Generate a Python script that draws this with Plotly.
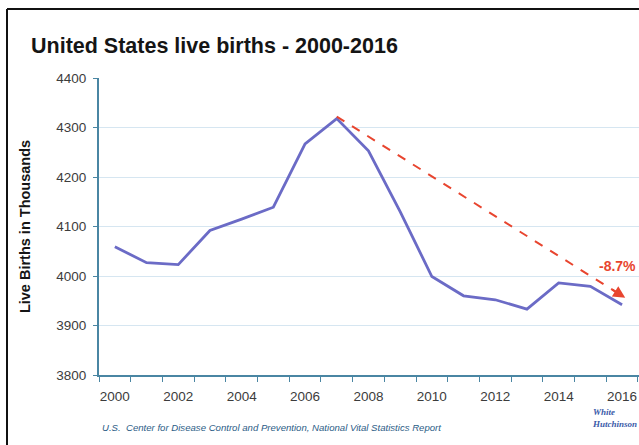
import plotly.graph_objects as go

# US live births, thousands
years = list(range(2000, 2017))
births = [4059, 4027, 4023, 4092, 4115, 4139, 4267, 4318, 4253, 4130,
          3999, 3960, 3952, 3933, 3986, 3979, 3942]
tick_years = list(range(2000, 2017, 2))
y_ticks = [3800, 3900, 4000, 4100, 4200, 4300, 4400]

W, H = 639, 445
L, R, T, B = 99, 0, 78, 70
PW, PH = W - L - R, H - T - B
YEAR_PX = 31.7


def px_x(p):
    return (p - L) / PW


def px_y(p):
    return (H - B - p) / PH


peak_i = births.index(max(births))
last_i = len(births) - 1
change = (births[last_i] - births[peak_i]) / births[peak_i] * 100

RED = "#e8452f"
LINE = "#6b6bc6"
AXIS = "#4a86a3"
GRID = "#d6e6f1"
TICK = "#3c3c3c"

fig = go.Figure()

fig.add_trace(go.Scatter(
    x=years, y=births, mode="lines",
    line=dict(color=LINE, width=2.8), hoverinfo="x+y", showlegend=False,
))

# dashed trend arrow from the peak year to the latest year
a_x0, a_y0 = years[peak_i], births[peak_i] + 4
a_x1, a_y1 = years[last_i] + 0.1, births[last_i] + 14
fig.add_trace(go.Scatter(
    x=[a_x0, a_x1], y=[a_y0, a_y1], mode="lines",
    line=dict(color=RED, width=2, dash="dash"), hoverinfo="skip", showlegend=False,
))
frac = 0.05
fig.add_annotation(
    x=a_x1, y=a_y1, xref="x", yref="y",
    ax=a_x1 - (a_x1 - a_x0) * frac, ay=a_y1 - (a_y1 - a_y0) * frac,
    axref="x", ayref="y", text="", showarrow=True,
    arrowhead=2, arrowsize=1.2, arrowwidth=2, arrowcolor=RED,
)
fig.add_annotation(
    x=years[last_i] - 0.8, y=births[last_i] + 78, xref="x", yref="y",
    text=f"<b>{change:.1f}%</b>", showarrow=False, xanchor="left", yanchor="middle",
    font=dict(size=14, color=RED, family="Liberation Sans, Arial"),
)

fig.add_annotation(
    x=px_x(29), y=px_y(46), xref="paper", yref="paper",
    text="<b>United States live births - 2000-2016</b>", showarrow=False,
    xanchor="left", yanchor="middle",
    font=dict(size=21.5, color="#151515", family="Liberation Sans, Arial"),
)
fig.add_annotation(
    x=px_x(100), y=px_y(427), xref="paper", yref="paper",
    text="<i>U.S.  Center for Disease Control and Prevention, National Vital Statistics Report</i>",
    showarrow=False, xanchor="left", yanchor="middle",
    font=dict(size=9.6, color="#2b5c86", family="Liberation Sans, Arial"),
)
fig.add_annotation(
    x=px_x(590), y=px_y(418), xref="paper", yref="paper",
    text="<b><i>White<br>Hutchinson</i></b>", showarrow=False,
    xanchor="left", yanchor="middle", align="left",
    font=dict(size=9, color="#3a5aa8", family="Liberation Serif, Times New Roman"),
)

# outer frame: left and top edges
for x0, y0, x1, y1 in [(7, 9, 7, H), (7, 9, W, 9)]:
    fig.add_shape(
        type="line", xref="paper", yref="paper",
        x0=px_x(x0), y0=px_y(y0), x1=px_x(x1), y1=px_y(y1),
        line=dict(color="#111111", width=2),
    )

fig.update_layout(
    width=W, height=H,
    margin=dict(l=L, r=R, t=T, b=B),
    paper_bgcolor="white", plot_bgcolor="white",
    font=dict(family="Liberation Sans, Arial", color=TICK),
    xaxis=dict(
        range=[1999.5, 1999.5 + PW / YEAR_PX],
        tickvals=tick_years, ticktext=[str(y) for y in tick_years],
        ticks="", showgrid=False, zeroline=False,
        showline=True, linecolor=AXIS, linewidth=2,
        tickfont=dict(size=13.5, color=TICK),
        ticklabelstandoff=8,
        minor=dict(ticks="outside", tick0=1999.5, dtick=1, ticklen=5,
                   tickcolor=AXIS, tickwidth=1, showgrid=False),
    ),
    yaxis=dict(
        range=[3800, 4400], tickvals=y_ticks,
        ticks="outside", ticklen=4, tickcolor=AXIS,
        showgrid=True, gridcolor=GRID, gridwidth=1, zeroline=False,
        showline=True, linecolor=AXIS, linewidth=2,
        tickfont=dict(size=13.5, color=TICK),
        ticklabelstandoff=4,
        title=dict(text="<b>Live Births in Thousands</b>", standoff=22,
                   font=dict(size=14.5, color="#151515")),
    ),
)

fig.write_html("out.html", config={"displayModeBar": False})
